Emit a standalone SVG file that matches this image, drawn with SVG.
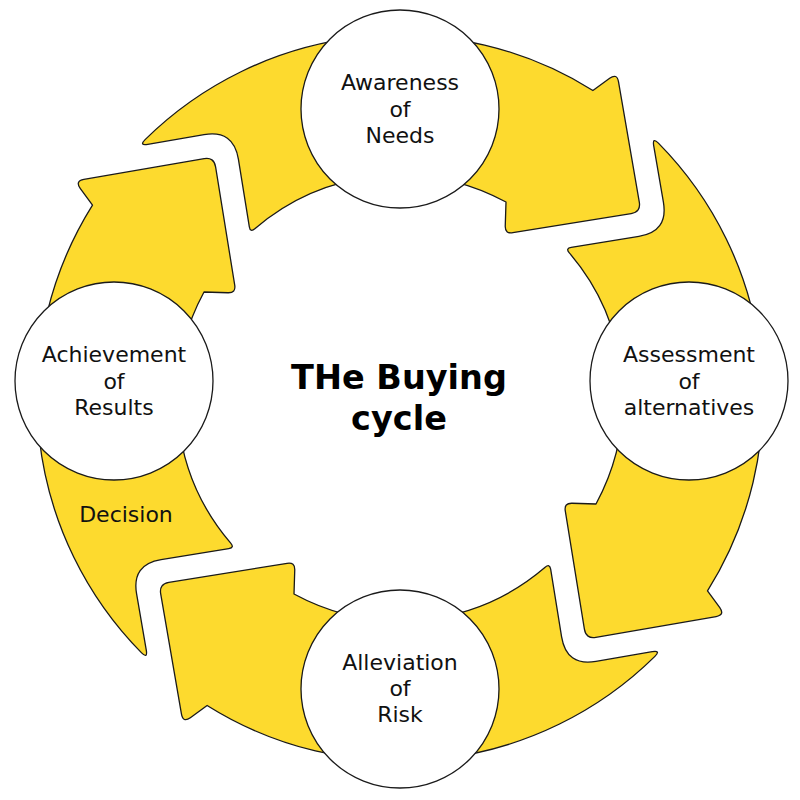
<svg xmlns="http://www.w3.org/2000/svg" xmlns:xlink="http://www.w3.org/1999/xlink" width="800" height="800" viewBox="0 0 800 800">
  <style>
    .arrow { fill: #FDDA2E; stroke: #1a1a1a; stroke-width: 1.3; stroke-linejoin: round; }
    .node { fill: #ffffff; stroke: #1a1a1a; stroke-width: 1.3; }
    .label { font-family: "DejaVu Sans", "Noto Sans", sans-serif; font-size: 22px; fill: #111111; text-anchor: middle; }
    .title { font-family: "DejaVu Sans", "Noto Sans", sans-serif; font-size: 33.5px; font-weight: bold; fill: #000000; text-anchor: middle; }
  </style>
  <defs>
    <path id="arrowShape" d="M -254.9,-258.4 A 363 363 0 0 1 192.9,-307.5 L 209.65,-319.8 Q 217,-325 218.53,-316.13 L 239.3,-195.85 Q 241,-186 231.13,-184.4 L 112.9,-165.28 Q 105,-164 105.25,-172 L 106,-196 A 223 223 0 0 0 -145.15,-169.3 Q -149.7,-165.3 -150.66,-171.22 L -161.61,-238.89 Q -166.4,-268.5 -195.96,-263.4 L -252.23,-253.73 Q -261.1,-252.2 -254.9,-258.4 Z"/>
  </defs>
  <rect x="0" y="0" width="800" height="800" fill="#ffffff"/>
  <g id="connectors">
    <use id="arrow-top" class="arrow" xlink:href="#arrowShape" href="#arrowShape" transform="translate(400,398)"/>
    <use id="arrow-right" class="arrow" xlink:href="#arrowShape" href="#arrowShape" transform="translate(400,398) rotate(90)"/>
    <use id="arrow-bottom" class="arrow" xlink:href="#arrowShape" href="#arrowShape" transform="translate(400,398) rotate(180)"/>
    <use id="arrow-left" class="arrow" xlink:href="#arrowShape" href="#arrowShape" transform="translate(400,398) rotate(270)"/>
  </g>
  <g id="decision-label">
    <text class="label" x="126" y="522">Decision</text>
  </g>
  <g id="node-awareness">
    <circle class="node" cx="400" cy="109" r="99"/>
    <text class="label" x="400" y="90">Awareness</text>
    <text class="label" x="400" y="116.5">of</text>
    <text class="label" x="400" y="143">Needs</text>
  </g>
  <g id="node-assessment">
    <circle class="node" cx="689" cy="381" r="99"/>
    <text class="label" x="689" y="362">Assessment</text>
    <text class="label" x="689" y="388.5">of</text>
    <text class="label" x="689" y="415">alternatives</text>
  </g>
  <g id="node-alleviation">
    <circle class="node" cx="400" cy="689" r="99"/>
    <text class="label" x="400" y="669.5">Alleviation</text>
    <text class="label" x="400" y="695.5">of</text>
    <text class="label" x="400" y="722">Risk</text>
  </g>
  <g id="node-achievement">
    <circle class="node" cx="114" cy="381" r="99"/>
    <text class="label" x="114" y="362">Achievement</text>
    <text class="label" x="114" y="388.5">of</text>
    <text class="label" x="114" y="415">Results</text>
  </g>
  <g id="title">
    <text class="title" x="399" y="389">THe Buying</text>
    <text class="title" x="399" y="430">cycle</text>
  </g>
</svg>
